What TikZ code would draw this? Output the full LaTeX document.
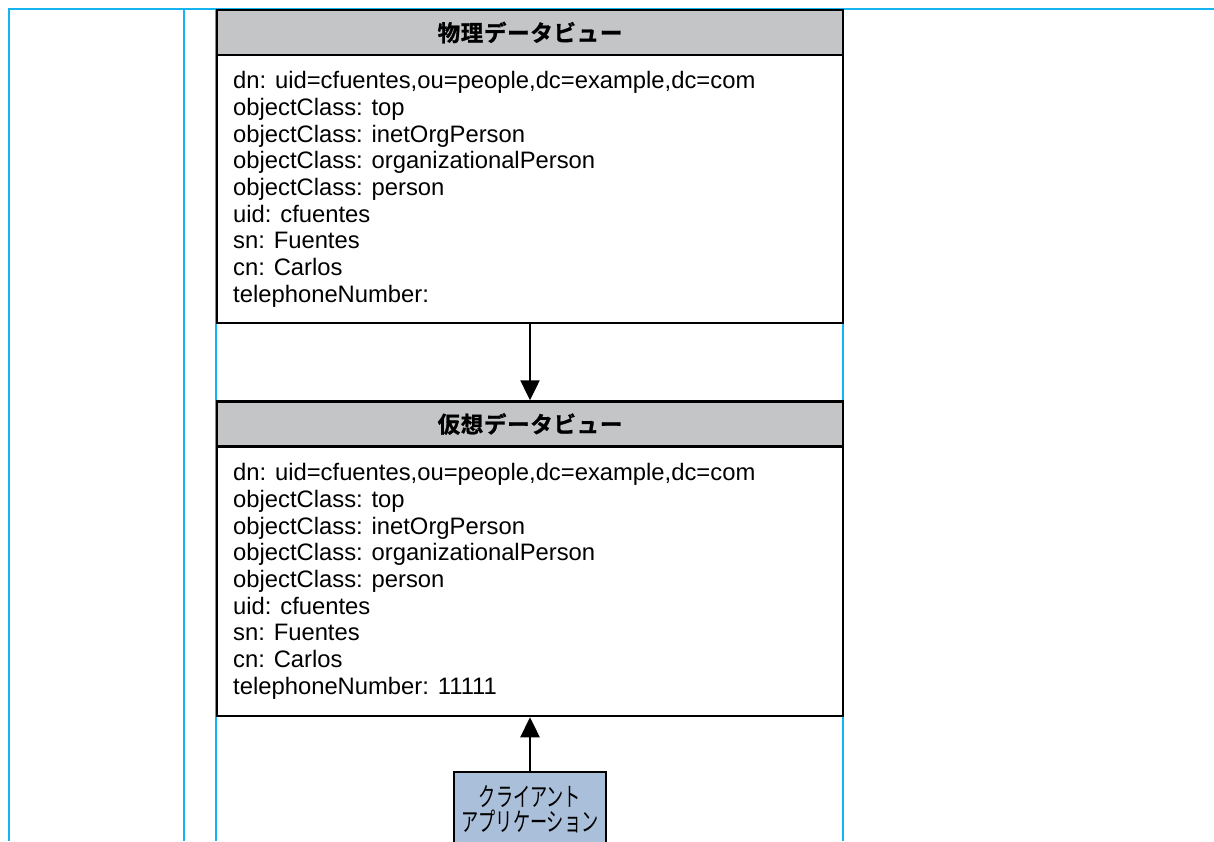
\documentclass[tikz,border=0pt]{standalone}
\usepackage{fontspec}
\setmainfont{Liberation Sans}
\newfontfamily\jpbold[LetterSpace=3,FakeBold=1.2]{Noto Sans CJK JP Bold}
\newfontfamily\jpreg[FakeStretch=0.66]{Noto Sans CJK JP}
\usetikzlibrary{arrows.meta}
\definecolor{guide}{RGB}{20,180,240}
\definecolor{headgray}{RGB}{196,197,199}
\definecolor{clientblue}{RGB}{170,191,217}
\tikzset{
  guideline/.style={draw=guide, line width=1.3pt},
  headbox/.style={draw=black, fill=headgray, line width=2.5pt, minimum width=626pt, minimum height=45pt, inner sep=0pt, font=\jpbold\fontsize{22.5}{26}\selectfont},
  bodybox/.style={draw=black, fill=white, line width=2.5pt, minimum width=626pt, inner sep=0pt},
  attrtext/.style={anchor=north west, align=left, inner sep=0pt, font=\fontsize{23.8}{26.65}\selectfont},
  clientbox/.style={draw=black, fill=clientblue, line width=2.5pt, minimum width=152pt, minimum height=75pt, inner sep=0pt, align=center, font=\jpreg\fontsize{26}{25}\selectfont},
  flow/.style={line width=2.5pt, -{Triangle[width=19pt,length=20pt]}}
}
\begin{document}
\begin{tikzpicture}[x=1pt,y=-1pt]
\clip (0,0) rectangle (1214,841);
\fill[white] (0,0) rectangle (1214,841);
% guide lines
\draw[guideline] (1214,9) -- (9,9) -- (9,841);
\draw[guideline] (184,9) -- (184,841);
\draw[guideline] (216,9) -- (216,841);
\draw[guideline] (843,9) -- (843,841);
% physical view
\node[bodybox, minimum height=268pt] (physbody) at (530,189) {};
\node[headbox] (physhead) at (530,32.5) {物理データビュー};
\node[attrtext] (phystext) at (233,71.5) {dn: uid=cfuentes,ou=people,dc=example,dc=com\\
objectClass: top\\
objectClass: inetOrgPerson\\
objectClass: organizationalPerson\\
objectClass: person\\
uid: cfuentes\\
sn: Fuentes\\
cn: Carlos\\
telephoneNumber:};
% virtual view
\node[bodybox, minimum height=270pt] (virtbody) at (530,581) {};
\node[headbox] (virthead) at (530,424) {仮想データビュー};
\node[attrtext] (virttext) at (233,463.5) {dn: uid=cfuentes,ou=people,dc=example,dc=com\\
objectClass: top\\
objectClass: inetOrgPerson\\
objectClass: organizationalPerson\\
objectClass: person\\
uid: cfuentes\\
sn: Fuentes\\
cn: Carlos\\
telephoneNumber: 11111};
% client
\node[clientbox] (client) at (530,809.5) {クライアント\\アプリケーション};
% arrows
\draw[flow] (physbody.south) -- (virthead.north);
\draw[flow] (client.north) -- (virtbody.south);
\end{tikzpicture}
\end{document}
